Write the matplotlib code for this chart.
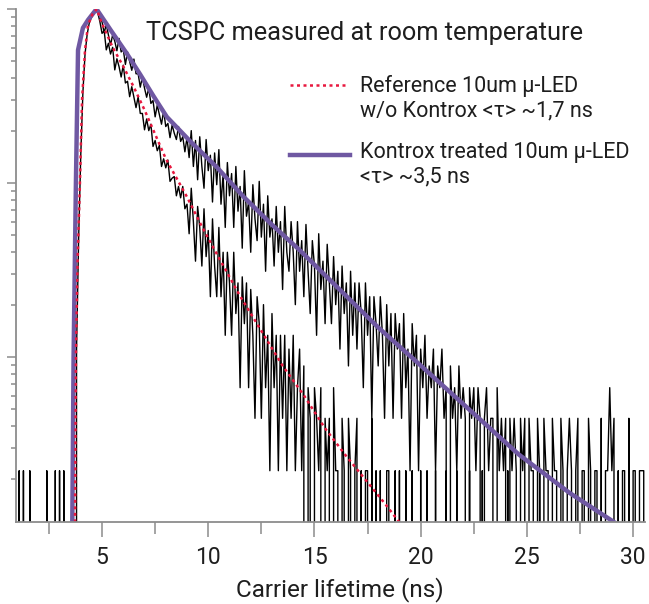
import numpy as np
import matplotlib
matplotlib.use("Agg")
import matplotlib.pyplot as plt
from matplotlib.lines import Line2D
from matplotlib.ticker import LogLocator, MultipleLocator, NullFormatter

plt.rcParams["font.family"] = ["Roboto", "DejaVu Sans"]

# ---------------------------- Data -----------------------------------
# TCSPC histograms, 0.1 ns bins from 1.0 ns, one row per ns (k.0 .. k.9)
bin_start_ns = 1.0
bin_width_ns = 0.1

ref_counts = [
    0, 1, 0, 1, 0, 0, 1, 0, 0, 0,            # 1
    0, 0, 0, 0, 1, 0, 0, 0, 1, 0,            # 2
    1, 0, 1, 0, 0, 0, 0, 0, 5, 22,           # 3
    66, 150, 248, 322, 375, 401, 421, 450, 428, 380,
    326, 338, 262, 286, 248, 271, 201, 233, 210, 183,   # 5
    214, 169, 173, 141, 161, 140, 122, 141, 113, 113,
    91, 105, 90, 98, 73, 79, 69, 74, 56, 62,
    55, 61, 46, 48, 49, 38, 43, 37, 43, 32,
    34, 23, 42, 27, 16, 33, 25, 15, 32, 17,
    24, 10, 28, 15, 10, 25, 10, 18, 6, 18,   # 10
    12, 6, 18, 8, 12, 3, 13, 7, 12, 3,
    11, 6, 2, 10, 7, 2, 9, 3, 6, 1,
    8, 3, 6, 1, 6, 2, 6, 1, 5, 2,
    6, 1, 3, 5, 1, 4, 0, 3, 2, 0,
    3, 2, 1, 3, 0, 2, 1, 2, 0, 3,            # 15
    1, 1, 0, 2, 1, 0, 2, 1, 0, 1,
    2, 0, 1, 0, 1, 1, 0, 2, 0, 1,
    0, 1, 0, 0, 1, 1, 0, 0, 1, 0,
    1, 0, 0, 1, 0, 0, 1, 0, 0, 0,
    1, 0, 0, 1, 0, 0, 0, 1, 0, 0,            # 20
    0, 0, 1, 0, 0, 0, 0, 1, 0, 0,
    0, 0, 0, 1, 0, 0, 0, 0, 0, 1,
    0, 0, 0, 0, 0, 0, 0, 0, 0, 0,
    0, 1, 0, 0, 0, 0, 0, 0, 0, 0,
    0, 0, 0, 0, 0, 0, 1, 0, 0, 0,            # 25
    0, 0, 0, 0, 0, 0, 0, 0, 0, 0,
    0, 0, 0, 0, 0, 0, 0, 0, 0, 0,
    0, 0, 0, 0, 0, 0, 0, 0, 0, 0,
    0, 0, 0, 0, 0, 0, 0, 0, 0, 0,
    0, 0, 0, 0, 0, 0, 0, 0, 0, 0,            # 30
]

treated_counts = [
    0, 0, 0, 0, 0, 0, 0, 0, 0, 0,            # 1
    0, 0, 0, 0, 0, 0, 0, 0, 0, 0,
    0, 0, 0, 0, 0, 0, 2, 12, 60, 262,
    305, 342, 362, 381, 398, 415, 431, 450, 436, 410,
    379, 329, 366, 319, 279, 320, 294, 259, 305, 255,   # 5
    263, 216, 255, 225, 200, 232, 191, 191, 160, 183,
    158, 140, 158, 129, 134, 108, 126, 111, 98, 117,
    95, 99, 82, 97, 87, 80, 95, 78, 83, 68,
    82, 63, 90, 56, 79, 47, 83, 56, 42, 80,
    53, 65, 35, 67, 44, 70, 34, 51, 25, 59,  # 10
    38, 51, 25, 56, 31, 43, 19, 53, 29, 35,
    18, 44, 28, 21, 46, 22, 34, 14, 38, 22,
    28, 15, 33, 18, 27, 11, 33, 18, 14, 27,
    18, 9, 27, 14, 21, 10, 26, 14, 8, 21,
    15, 6, 23, 11, 16, 7, 20, 12, 7, 17,     # 15
    9, 14, 5, 15, 8, 12, 4, 14, 6, 12,
    5, 12, 8, 3, 12, 6, 10, 2, 10, 7,
    4, 10, 6, 2, 9, 4, 8, 2, 8, 5,
    7, 2, 8, 3, 5, 1, 7, 4, 6, 1,
    5, 3, 6, 2, 4, 3, 5, 1, 4, 3,            # 20
    5, 2, 3, 0, 4, 2, 3, 1, 4, 2,
    3, 2, 0, 3, 2, 3, 1, 3, 2, 0,
    2, 3, 1, 2, 2, 0, 3, 1, 2, 1,
    2, 0, 2, 1, 2, 1, 0, 2, 1, 2,
    0, 2, 1, 1, 0, 2, 1, 0, 2, 1,            # 25
    1, 0, 2, 1, 1, 0, 2, 1, 0, 1,
    2, 1, 0, 1, 2, 0, 1, 1, 0, 2,
    1, 0, 1, 1, 0, 2, 0, 1, 1, 3,
    1, 2, 0, 1, 0, 1, 1, 0, 2, 0,
    1, 1, 0, 1, 1, 1, 0, 0, 0, 0,            # 30
]

# fitted decays: time (ns) and log10 of normalised intensity
ref_fit_t = [3.73, 3.77, 3.85, 3.96, 4.06, 4.20, 4.34, 4.55, 4.76, 4.95,
             5.50, 6.00, 6.50, 7.00, 7.50, 8.00, 8.50, 9.00, 9.70, 10.50,
             11.50, 12.50, 13.50, 14.50, 15.50, 16.50, 17.50, 18.30, 19.00]
ref_fit_log10 = [-2.95, -2.00, -1.45, -1.00, -0.52, -0.236, -0.092, -0.03, 0.0, -0.07,
                 -0.22, -0.33, -0.45, -0.58, -0.72, -0.86, -0.97, -1.08, -1.25, -1.43,
                 -1.65, -1.85, -2.05, -2.22, -2.41, -2.57, -2.72, -2.84, -2.95]

treated_fit_t = [3.60, 3.66, 3.77, 3.87, 4.10, 4.34, 4.74, 5.40, 6.16, 6.79,
                 7.42, 8.05, 9.15, 10.41, 11.67, 13.00, 14.34, 16.00, 18.00, 19.74,
                 22.00, 24.62, 27.00, 29.12]
treated_fit_log10 = [-2.95, -2.00, -1.00, -0.236, -0.109, -0.063, 0.0, -0.12, -0.255, -0.375,
                     -0.50, -0.62, -0.76, -0.91, -1.08, -1.24, -1.39, -1.59, -1.83, -2.02,
                     -2.27, -2.56, -2.78, -2.95]

title = "TCSPC measured at room temperature"
legend_labels = ["Reference 10um μ-LED\nw/o Kontrox <τ> ~1,7 ns",
                 "Kontrox treated 10um μ-LED\n<τ> ~3,5 ns"]
xlabel = "Carrier lifetime (ns)"

# ---------------------------- Style ----------------------------------
RED = "#e8183f"
PURPLE = "#6f58a2"
AXIS_GREY = "#8c8c8c"
TEXT = "#1e1e1e"
W, H = 649, 604


def fig_xy(px, py):
    return px / W, 1 - py / H


# ---------------------------- Plot -----------------------------------
fig = plt.figure(figsize=(W / 100, H / 100), dpi=100)
ax = fig.add_axes([16 / W, 82 / H, 629 / W, 513 / H])

ref = np.asarray(ref_counts, dtype=float)
treated = np.asarray(treated_counts, dtype=float)
t = bin_start_ns + bin_width_ns * np.arange(len(ref))

ax.plot(t, ref / ref.max(), color="black", lw=1.0)
ax.plot(t, treated / treated.max(), color="black", lw=1.0)
ax.plot(treated_fit_t, 10 ** np.asarray(treated_fit_log10), color=PURPLE, lw=3.2,
        solid_joinstyle="round")
ax.plot(ref_fit_t, 10 ** np.asarray(ref_fit_log10), color=RED, lw=1.8,
        dashes=(1.2, 1.4))

ax.set_yscale("log")
ax.set_xlim(0.95, 30.56)
ax.set_ylim(10 ** -2.948, 1.0)

ax.xaxis.set_major_locator(MultipleLocator(5))
ax.xaxis.set_minor_locator(MultipleLocator(2.5))
ax.yaxis.set_major_locator(LogLocator(base=10, numticks=10))
ax.yaxis.set_minor_locator(LogLocator(base=10, subs=np.arange(2, 10), numticks=20))
ax.yaxis.set_major_formatter(NullFormatter())
ax.yaxis.set_minor_formatter(NullFormatter())

for side in ("top", "right"):
    ax.spines[side].set_visible(False)
for side in ("left", "bottom"):
    ax.spines[side].set_color(AXIS_GREY)
    ax.spines[side].set_linewidth(1.3)

ax.tick_params(axis="x", which="major", length=11, width=1.1, color=AXIS_GREY,
               pad=6.5, labelsize=16.5, labelcolor=TEXT)
ax.tick_params(axis="x", which="minor", length=8.3, width=1.1, color=AXIS_GREY)
ax.tick_params(axis="y", which="major", length=6.5, width=1.1, color=AXIS_GREY)
ax.tick_params(axis="y", which="minor", length=3.6, width=1.1, color=AXIS_GREY)

ax.set_xlabel(xlabel, fontsize=17.5, color=TEXT)
ax.xaxis.set_label_coords(0.515, -0.107)

fig.text(*fig_xy(364, 40), title, ha="center", va="baseline", fontsize=18.3, color=TEXT)

# legend, drawn by hand so the sample line sits on the first text line
# (ty is the baseline of the last text line)
handles = [dict(color=RED, lw=1.8, dashes=(1.2, 1.4), px=(290, 347), py=85, ty=116),
           dict(color=PURPLE, lw=3.2, dashes=None, px=(290, 350), py=155, ty=182)]
for h, label in zip(handles, legend_labels):
    (x0, y0), (x1, _) = fig_xy(h["px"][0], h["py"]), fig_xy(h["px"][1], h["py"])
    ln = Line2D([x0, x1], [y0, y0], transform=fig.transFigure, color=h["color"], lw=h["lw"])
    if h["dashes"] is not None:
        ln.set_dashes(h["dashes"])
    fig.add_artist(ln)
    fig.text(*fig_xy(360, h["ty"]), label, ha="left", va="baseline", fontsize=15.5,
             color=TEXT, linespacing=1.18)

fig.savefig("out.png", dpi=100)
